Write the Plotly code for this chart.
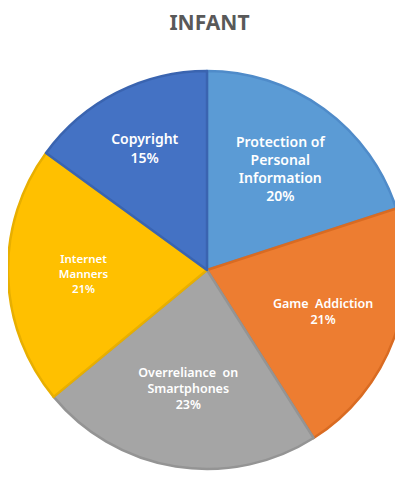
import plotly.graph_objects as go

categories = ["Protection of Personal Information", "Game Addiction",
              "Overreliance on Smartphones", "Internet Manners", "Copyright"]
label_text = ["Protection of<br>Personal<br>Information", "Game  Addiction",
              "Overreliance  on<br>Smartphones", "Internet<br>Manners", "Copyright"]
values = [20, 21, 23, 21, 15]
colors = ["#5B9BD5", "#ED7D31", "#A5A5A5", "#FFC000", "#4472C4"]
edge_colors = ["#4F8BC9", "#D96B22", "#949494", "#E8AF00", "#3A64B0"]
font_sizes = [14, 12.5, 12.5, 11.5, 14]

fig = go.Figure(go.Pie(
    labels=categories,
    values=values,
    text=label_text,
    texttemplate="%{text}<br>%{percent:.0%}",
    textposition="inside",
    insidetextorientation="horizontal",
    insidetextfont=dict(color="white", size=font_sizes, family="Noto Sans", weight=600),
    sort=False,
    direction="clockwise",
    rotation=0,
    marker=dict(colors=colors, line=dict(color=edge_colors, width=2.5)),
    showlegend=False,
    hoverinfo="label+percent",
))

fig.update_layout(
    width=403, height=480,
    margin=dict(l=0, r=5, t=63, b=19),
    paper_bgcolor="white",
    title=dict(text="<b>INFANT</b>", x=0.5, xanchor="center", y=0.97, yanchor="middle",
               font=dict(size=21, color="#595959", family="Noto Sans")),
)

fig.write_html("out.html")
